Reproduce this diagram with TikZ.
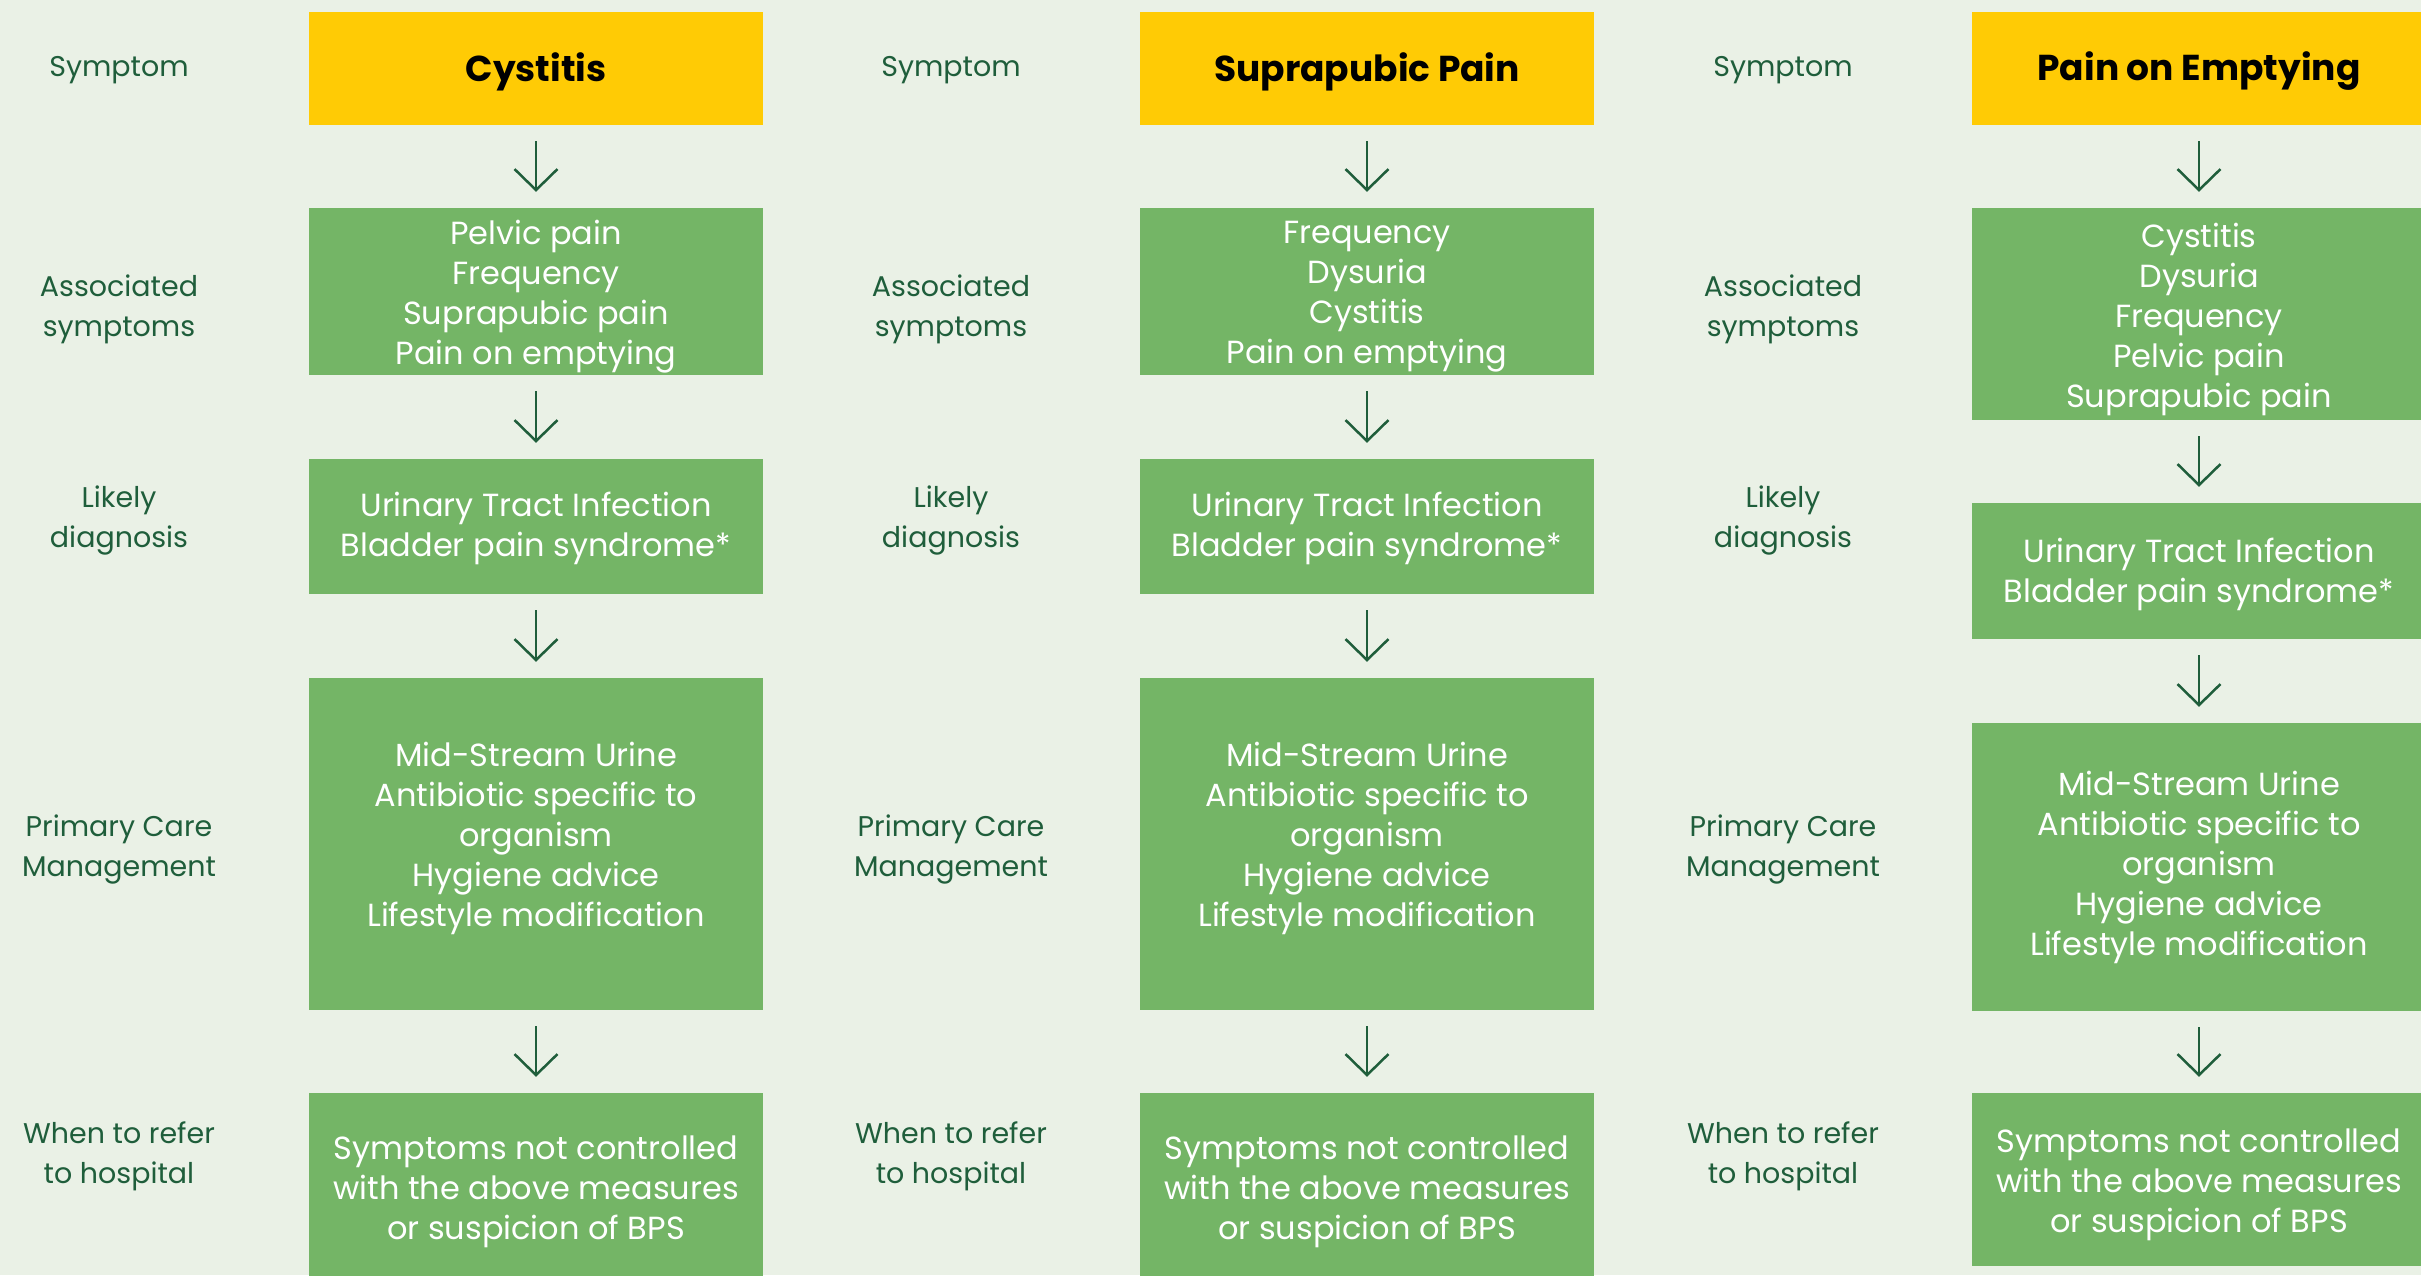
\documentclass[tikz,border=0pt]{standalone}
\usepackage{fontspec}
\setmainfont{Poppins}
\usetikzlibrary{arrows.meta}
\definecolor{bg}{HTML}{EAF1E6}
\definecolor{gfill}{HTML}{74B566}
\definecolor{yfill}{HTML}{FFCB05}
\definecolor{dgreen}{HTML}{1F5E3B}
\tikzset{
  bodyfont/.style={font=\fontsize{32}{40}\selectfont},
  labelfont/.style={font=\fontsize{28.5}{40}\selectfont},
  titlebox/.style={fill=yfill, minimum width=454pt, minimum height=113pt, inner sep=0pt},
  titletext/.style={inner sep=0pt, text=black, font=\fontsize{36}{40}\selectfont\bfseries},
  greenbox/.style={fill=gfill, minimum width=454pt, inner sep=0pt},
  boxtext/.style={align=center, text=white, inner sep=0pt, bodyfont},
  rowlabel/.style={align=center, text=dgreen, inner sep=0pt, labelfont},
  flow/.style={draw=dgreen, line width=2.5pt,
    -{Straight Barb[length=21pt, width=43pt]}}
}
\begin{document}
\begin{tikzpicture}[x=1pt,y=-1pt]
\useasboundingbox (0,0) rectangle (2421,1275);
\clip (0,0) rectangle (2421,1275);
\fill[bg] (0,0) rectangle (2421,1275);

% ---- row labels
\foreach \lx/\tag in {119/1,951/2,1783/3}{
  \node[rowlabel] (lab\tag a) at (\lx,70) {Symptom};
  \node[rowlabel] (lab\tag b) at (\lx,309) {Associated\\symptoms};
  \node[rowlabel] (lab\tag c) at (\lx,520) {Likely\\diagnosis};
  \node[rowlabel] (lab\tag d) at (\lx,849) {Primary Care\\Management};
  \node[rowlabel] (lab\tag e) at (\lx,1156) {When to refer\\to hospital};
}

% ---- column 1
\node[titlebox] (s1) at (536,68.5) {};
\node[titletext] (s1t) at ([yshift=-3pt]s1.center) {Cystitis};
\node[greenbox, minimum height=167pt] (a1) at (536,291.5) {};
\node[boxtext] (a1t) at ([yshift=-5pt]a1.center)
  {Pelvic pain\\Frequency\\Suprapubic pain\\Pain on emptying};
\node[greenbox, minimum height=135pt] (d1) at (536,526.5) {};
\node[boxtext] (d1t) at ([yshift=-2pt]d1.center)
  {Urinary Tract Infection\\Bladder pain syndrome*};
\node[greenbox, minimum height=332pt] (p1) at (536,844) {};
\node[boxtext] (p1t) at ([yshift=6pt]p1.center)
  {Mid-Stream Urine\\Antibiotic specific to\\organism\\Hygiene advice\\Lifestyle modification};
\node[greenbox, minimum height=188pt] (r1) at (536,1187) {};
\node[boxtext] (r1t) at ([yshift=-5pt]r1.center)
  {Symptoms not controlled\\with the above measures\\or suspicion of BPS};

% ---- column 2
\node[titlebox] (s2) at (1367,68.5) {};
\node[titletext] (s2t) at ([yshift=-3pt]s2.center) {Suprapubic Pain};
\node[greenbox, minimum height=167pt] (a2) at (1367,291.5) {};
\node[boxtext] (a2t) at ([yshift=-5pt]a2.center)
  {Frequency\\Dysuria\\Cystitis\\Pain on emptying};
\node[greenbox, minimum height=135pt] (d2) at (1367,526.5) {};
\node[boxtext] (d2t) at ([yshift=-2pt]d2.center)
  {Urinary Tract Infection\\Bladder pain syndrome*};
\node[greenbox, minimum height=332pt] (p2) at (1367,844) {};
\node[boxtext] (p2t) at ([yshift=6pt]p2.center)
  {Mid-Stream Urine\\Antibiotic specific to\\organism\\Hygiene advice\\Lifestyle modification};
\node[greenbox, minimum height=188pt] (r2) at (1367,1187) {};
\node[boxtext] (r2t) at ([yshift=-5pt]r2.center)
  {Symptoms not controlled\\with the above measures\\or suspicion of BPS};

% ---- column 3
\node[titlebox] (s3) at (2199,68.5) {};
\node[titletext] (s3t) at ([yshift=-3pt]s3.center) {Pain on Emptying};
\node[greenbox, minimum height=212pt] (a3) at (2199,314) {};
\node[boxtext] (a3t) at ([yshift=-5pt]a3.center)
  {Cystitis\\Dysuria\\Frequency\\Pelvic pain\\Suprapubic pain};
\node[greenbox, minimum height=136pt] (d3) at (2199,571) {};
\node[boxtext] (d3t) at ([yshift=-3pt]d3.center)
  {Urinary Tract Infection\\Bladder pain syndrome*};
\node[greenbox, minimum height=288pt] (p3) at (2199,867) {};
\node[boxtext] (p3t) at (p3.center)
  {Mid-Stream Urine\\Antibiotic specific to\\organism\\Hygiene advice\\Lifestyle modification};
\node[greenbox, minimum height=173pt] (r3) at (2199,1179.5) {};
\node[boxtext] (r3t) at ([yshift=-5pt]r3.center)
  {Symptoms not controlled\\with the above measures\\or suspicion of BPS};

% ---- connectors
\foreach \c in {1,2,3}{
  \draw[flow] ([yshift=-16pt]s\c.south) -- ([yshift=16pt]a\c.north);
  \draw[flow] ([yshift=-16pt]a\c.south) -- ([yshift=16pt]d\c.north);
  \draw[flow] ([yshift=-16pt]d\c.south) -- ([yshift=16pt]p\c.north);
  \draw[flow] ([yshift=-16pt]p\c.south) -- ([yshift=16pt]r\c.north);
}
\end{tikzpicture}
\end{document}
